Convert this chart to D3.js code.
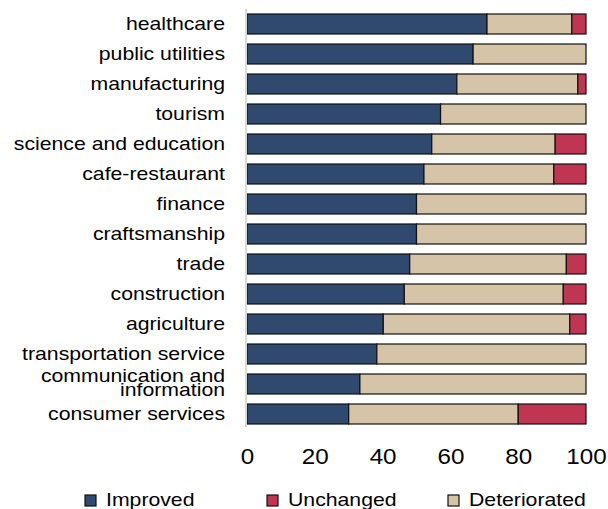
<!DOCTYPE html>
<html>
<head>
<meta charset="utf-8">
<script src="https://cdn.jsdelivr.net/npm/d3@7"></script>
<style>
  body { margin: 0; background: #fff; }
  text { font-family: "Liberation Sans", Arial, sans-serif; fill: #000; }
</style>
</head>
<body>
<div id="chart"></div>
<script>
const categories = [
    "healthcare", "public utilities", "manufacturing", "tourism",
    "science and education", "cafe-restaurant", "finance", "craftsmanship",
    "trade", "construction", "agriculture", "transportation service",
    "communication and information", "consumer services"
];
const improved     = [70.8, 66.7, 61.9, 57.1, 54.5, 52.2, 50, 50, 48.0, 46.4, 40.2, 38.3, 33.3, 30];
const deteriorated = [25.0, 33.3, 35.7, 42.9, 36.4, 38.3, 50, 50, 46.2, 46.9, 55.0, 61.7, 66.7, 50];
const unchanged    = [4.2, 0, 2.4, 0, 9.1, 9.5, 0, 0, 5.8, 6.7, 4.8, 0, 0, 20];
const xTicks = [0, 20, 40, 60, 80, 100];
const legendNames = ["Improved", "Unchanged", "Deteriorated"];

const colors = { Improved: "#2f4a6e", Unchanged: "#c03551", Deteriorated: "#d5c4a8" };
const stretch = 1.18; // the reference text is drawn a little wide

const width = 608, height = 509;
const svg = d3.select("#chart").append("svg")
    .attr("width", width)
    .attr("height", height);

const x = d3.scaleLinear().domain([0, 100]).range([247, 586]);
const y = d3.scaleBand().domain(categories).range([9, 429])
    .paddingInner(1 / 3).paddingOuter(1 / 6);

// stacked in drawing order: improved, deteriorated, unchanged
const rows = categories.map((c, i) => ({
    category: c,
    Improved: improved[i],
    Deteriorated: deteriorated[i],
    Unchanged: unchanged[i]
}));
const stack = d3.stack().keys(["Improved", "Deteriorated", "Unchanged"]);
const series = stack(rows);

svg.append("g")
    .selectAll("g")
    .data(series)
    .enter()
    .append("g")
    .attr("fill", (d) => colors[d.key])
    .selectAll("rect")
    .data((d) => d.filter((p) => p[1] - p[0] > 0))
    .enter()
    .append("rect")
    .attr("x", (d) => x(d[0]))
    .attr("y", (d) => y(d.data.category))
    .attr("width", (d) => x(d[1]) - x(d[0]))
    .attr("height", y.bandwidth())
    .attr("stroke", "#111")
    .attr("stroke-width", 1.2);

// left axis (category labels + light vertical line)
const yAxis = svg.append("g")
    .attr("transform", "translate(246,0)")
    .call(d3.axisLeft(y).tickSize(0).tickPadding(21));
yAxis.select(".domain").attr("stroke", "#d9d9d9").attr("stroke-width", 2)
    .attr("d", "M0," + y.range()[0] + "V" + (y.range()[1] - 2));
yAxis.selectAll(".tick text").each(function (d) {
    const t = d3.select(this);
    t.text(null)
        .attr("x", 0).attr("dy", null)
        .attr("font-size", 18)
        .attr("text-anchor", "end")
        .attr("transform", "translate(-21,0) scale(" + stretch + ",1)");
    if (d === "communication and information") {
        t.append("tspan").attr("x", 0).attr("y", -2).text("communication and");
        t.append("tspan").attr("x", 0).attr("y", 12).text("information");
    } else {
        t.attr("y", 6).text(d);
    }
});

// bottom axis, labels only
const xAxis = svg.append("g")
    .attr("transform", "translate(0,429)")
    .call(d3.axisBottom(x).tickValues(xTicks).tickSize(0).tickPadding(0));
xAxis.select(".domain").remove();
xAxis.selectAll(".tick text")
    .attr("dy", null).attr("y", 0)
    .attr("font-size", 22)
    .attr("transform", "translate(0,35) scale(1.1,1)");

// legend
const legendX = [85, 267, 448];
const legend = svg.append("g")
    .selectAll("g")
    .data(legendNames)
    .enter()
    .append("g")
    .attr("transform", (d, i) => "translate(" + legendX[i] + ",495)");
legend.append("rect")
    .attr("width", 11).attr("height", 11)
    .attr("fill", (d) => colors[d])
    .attr("stroke", "#111").attr("stroke-width", 1.2);
legend.append("text")
    .attr("font-size", 18)
    .attr("transform", "translate(21,11) scale(" + stretch + ",1)")
    .text((d) => d);
</script>
</body>
</html>
